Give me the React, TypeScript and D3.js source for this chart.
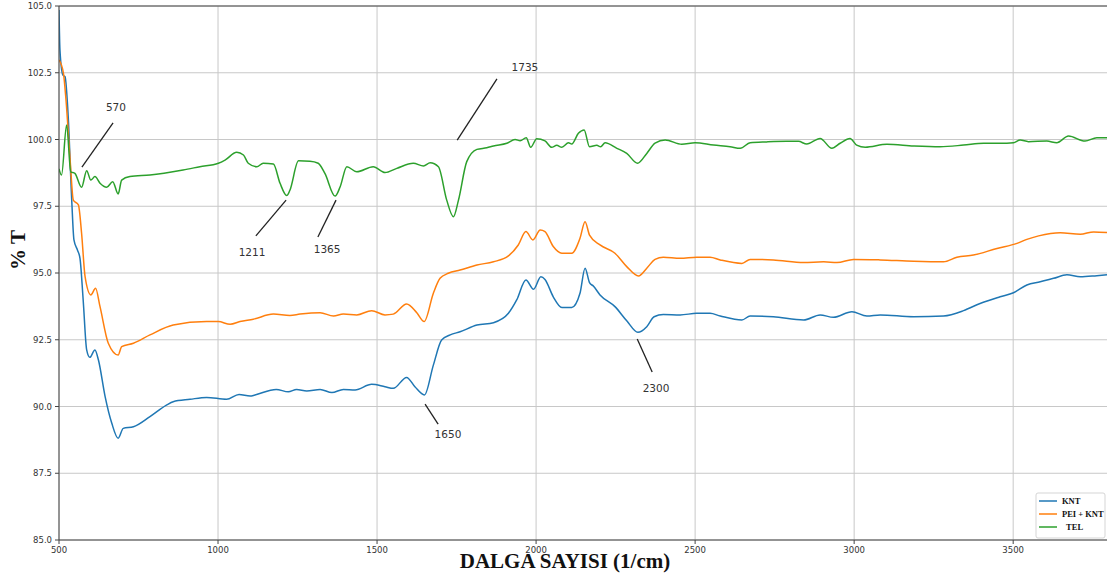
import React from "react";
import * as d3 from "d3";

// ---- data (wavenumber 1/cm, %T) ----
const knt: [number, number][] = [
  [500, 104.85], [503, 103.35], [512, 102.42], [519, 102.35], [529, 100.85], [540, 97.73],
  [547, 96.24], [558, 95.86], [566, 95.55], [576, 93.99], [587, 92.12], [597, 91.84],
  [613, 92.12], [624, 91.74], [645, 90.37], [666, 89.37], [686, 88.81], [702, 89.18],
  [734, 89.24], [786, 89.62], [839, 90.06], [859, 90.18], [912, 90.27], [964, 90.34],
  [1027, 90.27], [1066, 90.45], [1101, 90.39], [1116, 90.43], [1183, 90.64], [1221, 90.55],
  [1247, 90.64], [1279, 90.58], [1321, 90.64], [1358, 90.52], [1394, 90.64], [1431, 90.62],
  [1483, 90.83], [1525, 90.74], [1551, 90.68], [1593, 91.09], [1619, 90.74], [1649, 90.43],
  [1677, 91.55], [1703, 92.49], [1730, 92.68], [1761, 92.8], [1814, 93.05], [1866, 93.14],
  [1913, 93.49], [1939, 93.99], [1968, 94.74], [1992, 94.39], [2015, 94.86], [2028, 94.76],
  [2054, 94.11], [2081, 93.71], [2112, 93.71], [2138, 94.24], [2154, 95.18], [2168, 94.64],
  [2180, 94.51], [2201, 94.18], [2248, 93.74], [2285, 93.21], [2320, 92.78], [2348, 92.99],
  [2371, 93.36], [2400, 93.45], [2453, 93.43], [2505, 93.49], [2547, 93.49], [2579, 93.39],
  [2647, 93.24], [2673, 93.39], [2746, 93.36], [2841, 93.24], [2893, 93.43], [2935, 93.34],
  [2993, 93.55], [3040, 93.39], [3082, 93.43], [3187, 93.36], [3281, 93.39], [3344, 93.59],
  [3396, 93.86], [3459, 94.11], [3501, 94.26], [3543, 94.55], [3585, 94.67], [3627, 94.8],
  [3669, 94.93], [3711, 94.86], [3763, 94.9], [3795, 94.93],
];

const peiKnt: [number, number][] = [
  [500, 102.98], [514, 102.48], [522, 101.48], [535, 99.23], [545, 97.73], [561, 97.55],
  [571, 96.49], [582, 94.86], [600, 94.18], [615, 94.43], [629, 93.74], [655, 92.37],
  [686, 91.93], [697, 92.24], [734, 92.37], [786, 92.68], [859, 93.05], [964, 93.18],
  [1001, 93.18], [1038, 93.08], [1069, 93.18], [1111, 93.27], [1174, 93.46], [1226, 93.41],
  [1258, 93.46], [1321, 93.51], [1363, 93.39], [1394, 93.46], [1436, 93.43], [1483, 93.59],
  [1525, 93.43], [1551, 93.46], [1593, 93.84], [1625, 93.51], [1648, 93.18], [1677, 94.24],
  [1698, 94.8], [1724, 94.99], [1761, 95.11], [1814, 95.3], [1866, 95.42], [1913, 95.64],
  [1944, 96.05], [1968, 96.55], [1990, 96.24], [2013, 96.61], [2028, 96.55], [2054, 95.99],
  [2081, 95.74], [2112, 95.74], [2138, 96.3], [2154, 96.92], [2168, 96.42], [2201, 96.05],
  [2248, 95.74], [2285, 95.24], [2322, 94.89], [2348, 95.18], [2374, 95.51], [2400, 95.59],
  [2453, 95.55], [2505, 95.59], [2547, 95.59], [2579, 95.49], [2647, 95.36], [2673, 95.51],
  [2746, 95.49], [2841, 95.39], [2904, 95.42], [2946, 95.39], [2998, 95.51], [3082, 95.49],
  [3187, 95.44], [3281, 95.42], [3323, 95.59], [3375, 95.67], [3449, 95.92], [3512, 96.11],
  [3543, 96.26], [3580, 96.39], [3648, 96.51], [3711, 96.45], [3753, 96.54], [3795, 96.52],
];

const tel: [number, number][] = [
  [500, 98.9], [508, 98.67], [524, 100.54], [537, 98.79], [550, 98.73], [571, 98.21],
  [587, 98.83], [600, 98.48], [613, 98.61], [629, 98.36], [650, 98.21], [669, 98.42],
  [686, 97.96], [697, 98.48], [723, 98.61], [786, 98.67], [890, 98.86], [943, 98.98],
  [1001, 99.11], [1022, 99.23], [1059, 99.52], [1080, 99.42], [1095, 99.11], [1122, 98.98],
  [1142, 99.11], [1174, 99.08], [1195, 98.36], [1216, 97.9], [1226, 98.1], [1253, 99.2],
  [1289, 99.19], [1315, 99.11], [1336, 98.73], [1368, 97.88], [1384, 98.23], [1405, 98.98],
  [1436, 98.79], [1488, 98.98], [1525, 98.76], [1562, 98.92], [1614, 99.11], [1646, 99.01],
  [1667, 99.13], [1693, 98.98], [1719, 97.73], [1740, 97.11], [1756, 97.73], [1782, 99.17],
  [1814, 99.63], [1845, 99.69], [1866, 99.76], [1908, 99.86], [1934, 100.0], [1950, 99.95],
  [1969, 100.07], [1983, 99.71], [2002, 100.03], [2028, 99.95], [2049, 99.71], [2065, 99.78],
  [2081, 99.71], [2102, 99.88], [2112, 99.83], [2133, 100.23], [2151, 100.36], [2168, 99.73],
  [2191, 99.78], [2203, 99.73], [2217, 99.88], [2254, 99.67], [2285, 99.48], [2319, 99.11],
  [2348, 99.48], [2374, 99.86], [2406, 99.98], [2458, 99.82], [2500, 99.88], [2558, 99.79],
  [2610, 99.73], [2642, 99.67], [2673, 99.88], [2725, 99.91], [2788, 99.93], [2825, 99.93],
  [2851, 99.83], [2893, 100.04], [2930, 99.67], [2956, 99.86], [2987, 100.04], [3008, 99.79],
  [3035, 99.71], [3103, 99.82], [3187, 99.76], [3270, 99.73], [3344, 99.79], [3407, 99.86],
  [3459, 99.86], [3501, 99.88], [3522, 99.98], [3548, 99.92], [3606, 99.94], [3637, 99.88],
  [3674, 100.13], [3726, 99.94], [3763, 100.07], [3795, 100.07],
];

const seriesNames = ["KNT", "PEI + KNT", "  TEL"];
const xTicks = [500, 1000, 1500, 2000, 2500, 3000, 3500];
const yTicks = [85, 87.5, 90, 92.5, 95, 97.5, 100, 102.5, 105];

// annotations: label, line from (x1,y1) to (x2,y2), text at (tx,ty) — data units
const annLabels = ["570", "1211", "1365", "1735", "1650", "2300"];
const annLines: [number, number, number, number][] = [
  [572, 98.97, 670, 100.62],
  [1214, 97.73, 1119, 96.39],
  [1371, 97.73, 1314, 96.35],
  [1752, 99.98, 1877, 102.27],
  [1651, 90.09, 1692, 89.34],
  [2318, 92.53, 2365, 91.29],
];
const annText: [number, number][] = [
  [679, 101.22], [1107, 95.79], [1343, 95.9], [1965, 102.72], [1723, 88.97], [2377, 90.69],
];

const W = 1107;
const H = 578;
const colors = ["#1f77b4", "#ff7f0e", "#2ca02c"];

export default function App() {
  const left = 59, right = 1107, top = 6, bottom = 540;
  const x = d3.scaleLinear().domain([500, 3795]).range([left, right]);
  const y = d3.scaleLinear().domain([85, 105]).range([bottom, top]);
  const line = d3.line<[number, number]>().x((d) => x(d[0])).y((d) => y(d[1])).curve(d3.curveMonotoneX);
  const data = [knt, peiKnt, tel];
  const tickFont = "DejaVu Sans, sans-serif";
  const serif = "Liberation Serif, 'Times New Roman', serif";

  return (
    <svg width={W} height={H} style={{ position: "absolute", left: 0, top: 0, background: "#fff" }}>
      <defs>
        <clipPath id="plot">
          <rect x={left} y={top} width={right - left} height={bottom - top} />
        </clipPath>
      </defs>
      {/* grid */}
      {xTicks.map((t) => (
        <line key={"gx" + t} x1={x(t)} x2={x(t)} y1={top} y2={bottom} stroke="#c8c8c8" strokeWidth={1} />
      ))}
      {yTicks.map((t) => (
        <line key={"gy" + t} x1={left} x2={right} y1={y(t)} y2={y(t)} stroke="#c8c8c8" strokeWidth={1} />
      ))}
      {/* series */}
      <g clipPath="url(#plot)">
        {data.map((d, i) => (
          <path key={i} d={line(d) || ""} fill="none" stroke={colors[i]} strokeWidth={1.5} />
        ))}
      </g>
      {/* annotations */}
      {annLines.map((a, i) => (
        <line key={"al" + i} x1={x(a[0])} y1={y(a[1])} x2={x(a[2])} y2={y(a[3])} stroke="#222" strokeWidth={1.3} />
      ))}
      {annText.map((a, i) => (
        <text key={"at" + i} x={x(a[0])} y={y(a[1])} textAnchor="middle" dominantBaseline="central"
          fontFamily={tickFont} fontSize={10.5} fill="#333">{annLabels[i]}</text>
      ))}
      {/* spines */}
      <line x1={left} x2={right} y1={top} y2={top} stroke="#444" strokeWidth={1} />
      <line x1={left} x2={right} y1={bottom} y2={bottom} stroke="#444" strokeWidth={1} />
      <line x1={left} x2={left} y1={top} y2={bottom} stroke="#444" strokeWidth={1} />
      {/* y ticks */}
      {yTicks.map((t) => (
        <g key={"yt" + t}>
          <line x1={left - 4} x2={left} y1={y(t)} y2={y(t)} stroke="#444" strokeWidth={1} />
          <text x={left - 7} y={y(t)} textAnchor="end" dominantBaseline="central" fontFamily={tickFont}
            fontSize={8.5} fill="#333">{t.toFixed(1)}</text>
        </g>
      ))}
      {/* x ticks */}
      {xTicks.map((t) => (
        <g key={"xt" + t}>
          <line x1={x(t)} x2={x(t)} y1={bottom} y2={bottom + 4} stroke="#444" strokeWidth={1} />
          <text x={x(t)} y={553} textAnchor="middle" fontFamily={tickFont} fontSize={8.5} fill="#333">{t}</text>
        </g>
      ))}
      {/* axis labels */}
      <text x={565} y={568} textAnchor="middle" fontFamily={serif} fontWeight="bold" fontSize={21} fill="#111">
        DALGA SAYISI (1/cm)
      </text>
      <text transform="translate(25,250) rotate(-90)" textAnchor="middle" fontFamily={serif} fontWeight="bold"
        fontSize={21} fill="#111">% T</text>
      {/* legend */}
      <g>
        <rect x={1036} y={493} width={69} height={45} rx={2} fill="#fff" fillOpacity={0.8} stroke="#d5d5d5" strokeWidth={1} />
        {seriesNames.map((n, i) => (
          <g key={"lg" + i}>
            <line x1={1039} x2={1057} y1={501 + i * 13} y2={501 + i * 13} stroke={colors[i]} strokeWidth={1.5} />
            <text x={1062} y={501 + i * 13} dominantBaseline="central" fontFamily={serif} fontWeight="bold"
              fontSize={8.5} fill="#111" xmlSpace="preserve">{n}</text>
          </g>
        ))}
      </g>
    </svg>
  );
}
